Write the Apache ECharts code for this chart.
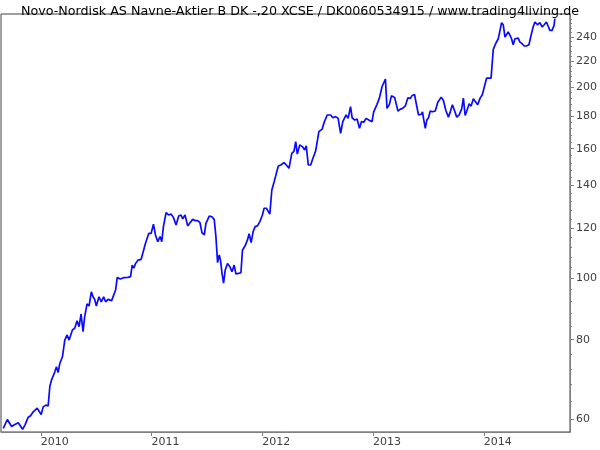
<!DOCTYPE html>
<html><head><meta charset="utf-8">
<script src="https://cdn.jsdelivr.net/npm/echarts@6/dist/echarts.min.js"></script>
<style>html,body{margin:0;padding:0;background:#fff}#c{width:600px;height:450px}</style>
</head><body><div id="c"></div>
<script>
const chartTitle = 'Novo-Nordisk AS Navne-Aktier B DK -,20 XCSE / DK0060534915 / www.trading4living.de';
const years = [
2009.661, 2009.697, 2009.715, 2009.736, 2009.757, 2009.775, 2009.796, 2009.811, 2009.835, 2009.856,
2009.886, 2009.907, 2009.931, 2009.946, 2009.967, 2009.985, 2010.003, 2010.021, 2010.045, 2010.066,
2010.081, 2010.096, 2010.126, 2010.141, 2010.156, 2010.171, 2010.195, 2010.216, 2010.237, 2010.255,
2010.285, 2010.306, 2010.327, 2010.345, 2010.363, 2010.381, 2010.396, 2010.417, 2010.435, 2010.456,
2010.471, 2010.486, 2010.501, 2010.525, 2010.546, 2010.567, 2010.585, 2010.606, 2010.621, 2010.639,
2010.657, 2010.675, 2010.690, 2010.717, 2010.747, 2010.786, 2010.810, 2010.825, 2010.840, 2010.855,
2010.879, 2010.906, 2010.921,
2010.945, 2010.975, 2010.996, 2011.017, 2011.035, 2011.056, 2011.077, 2011.092, 2011.107, 2011.131,
2011.155, 2011.176, 2011.197, 2011.221, 2011.245, 2011.266, 2011.281, 2011.302, 2011.326, 2011.347,
2011.371, 2011.395, 2011.416, 2011.437, 2011.455, 2011.476, 2011.491, 2011.521, 2011.545, 2011.566,
2011.581, 2011.596, 2011.611, 2011.623, 2011.636, 2011.650, 2011.665, 2011.686, 2011.708, 2011.726,
2011.746, 2011.761, 2011.785, 2011.807, 2011.821, 2011.845, 2011.866, 2011.881, 2011.899, 2011.917,
2011.935, 2011.956, 2011.978, 2012.001, 2012.016, 2012.037, 2012.055, 2012.068, 2012.086, 2012.107,
2012.127, 2012.145, 2012.167, 2012.196, 2012.217, 2012.241,
2012.266, 2012.286, 2012.302, 2012.316, 2012.338, 2012.361, 2012.383, 2012.397, 2012.415, 2012.437,
2012.457, 2012.482, 2012.511, 2012.541, 2012.556, 2012.586, 2012.617, 2012.637, 2012.662, 2012.685,
2012.707, 2012.727, 2012.745, 2012.757, 2012.775, 2012.797, 2012.811, 2012.835, 2012.856, 2012.878,
2012.896, 2012.916, 2012.937, 2012.961, 2012.991, 2013.006, 2013.036, 2013.058, 2013.081, 2013.112,
2013.126, 2013.148, 2013.166, 2013.195, 2013.211, 2013.225, 2013.247, 2013.267, 2013.292, 2013.315,
2013.337, 2013.351, 2013.375, 2013.387, 2013.411, 2013.436, 2013.447, 2013.456, 2013.472, 2013.486,
2013.501, 2013.517, 2013.537, 2013.562, 2013.585, 2013.600,
2013.616, 2013.636, 2013.657, 2013.681, 2013.697, 2013.717, 2013.735, 2013.756, 2013.778, 2013.801,
2013.816, 2013.832, 2013.846, 2013.868, 2013.886, 2013.906, 2013.922, 2013.945, 2013.967, 2013.987,
2014.005, 2014.026, 2014.041, 2014.066, 2014.086, 2014.107, 2014.131, 2014.147, 2014.161, 2014.176,
2014.192, 2014.206, 2014.221, 2014.237, 2014.251, 2014.266, 2014.282, 2014.296, 2014.311, 2014.327,
2014.347, 2014.365, 2014.386, 2014.408, 2014.426, 2014.446, 2014.462, 2014.485, 2014.507, 2014.528,
2014.546, 2014.566, 2014.581, 2014.597, 2014.617, 2014.635, 2014.642
];
const prices = [
58.0, 59.9, 59.8, 58.4, 58.7, 58.5, 59.2, 59.1, 57.8, 58.7,
60.4, 60.7, 61.6, 61.4, 62.4, 62.0, 61.0, 62.7, 63.1, 62.9,
67.5, 69.1, 71.2, 72.5, 71.0, 73.4, 75.2, 79.9, 81.4, 79.9,
82.9, 83.4, 85.7, 83.9, 87.8, 82.4, 87.0, 91.1, 90.4, 95.2,
93.5, 92.6, 90.4, 93.5, 91.8, 93.5, 91.8, 92.6, 93.0, 92.2,
92.2, 95.8, 100.3, 99.7, 100.2, 100.3, 100.6, 104.9, 103.7, 105.5,
106.8, 107.1, 107.1,
113.5, 117.7, 117.7, 121.7, 117.0, 114.2, 116.3, 114.2, 120.6, 126.8,
125.8, 126.2, 124.7, 121.3, 125.3, 125.8, 124.0, 125.8, 120.9, 122.3,
123.8, 123.2, 123.2, 122.3, 118.0, 117.0, 122.0, 125.3, 125.0, 123.7,
116.3, 105.8, 108.8, 106.6, 101.8, 98.2, 103.0, 105.5, 104.2, 102.4,
104.9, 101.6, 101.8, 102.0, 110.8, 112.5, 114.9, 117.5, 113.8, 118.4,
120.6, 120.9, 122.8, 125.8, 128.9, 128.9, 128.9, 126.2, 137.7, 141.9,
146.3, 150.2, 150.8, 152.1, 150.8, 149.0,
157.3, 158.5, 164.1, 156.9, 162.2, 161.2, 159.3, 161.7, 150.8, 150.8,
154.5, 158.7, 170.2, 171.8, 175.5, 180.8, 180.8, 179.0, 179.7, 178.6,
169.2, 176.5, 177.5, 180.8, 178.6, 186.3, 179.0, 177.5, 178.2, 172.3,
176.5, 176.1, 178.6, 177.5, 176.5, 182.9, 187.9, 192.4, 200.3, 206.0,
185.2, 187.9, 193.8, 192.7, 192.7, 183.4, 184.7, 185.2, 186.9, 192.4,
192.0, 193.8, 194.8, 189.7, 180.8, 181.3, 182.9, 178.6, 172.3, 177.5,
179.0, 183.4, 182.9, 183.4, 189.3, 188.6,
192.9, 190.6, 183.9, 179.4, 182.7, 187.7, 183.9, 179.4, 180.9, 184.9,
192.2, 180.5, 183.2, 188.3, 186.7, 191.8, 190.0, 187.7, 192.2, 194.6,
200.1, 206.7, 207.4, 206.7, 229.4, 234.1, 238.4, 245.8, 252.7, 250.8,
239.9, 239.9, 244.3, 241.4, 238.4, 233.3, 238.4, 239.9, 239.0, 235.5,
234.1, 232.2, 232.2, 233.3, 240.8, 248.8, 253.3, 250.8, 252.7, 248.8,
250.8, 253.3, 249.7, 245.8, 245.8, 250.3, 256.4
];
const yearTicks = [2010, 2011, 2012, 2013, 2014];
const priceTicks = [60, 80, 100, 120, 140, 160, 180, 200, 220, 240];
const minorPriceTicks = [];
for (let v = 60; v <= 256; v += 4) minorPriceTicks.push(v);

const xMin = 2009.64, xMax = 2014.779;
const pMin = 57.24, pMax = 260.8;

if (years.length !== prices.length) console.error('length mismatch', years.length, prices.length);

const seriesData = years.map((t, i) => [t, Math.log(prices[i])]);
const font = 'DejaVu Sans, Verdana, sans-serif';

const chart = echarts.init(document.getElementById('c'), null, {renderer: 'canvas'});
chart.setOption({
  animation: false,
  backgroundColor: '#ffffff',
  title: {
    text: chartTitle, left: 'center', top: 0,
    textStyle: {fontSize: 12.7, fontWeight: 'normal', color: '#000', fontFamily: font}
  },
  grid: {left: 1, right: 28, top: 14, bottom: 18, show: true, borderColor: '#404040', borderWidth: 1},
  xAxis: {
    type: 'value', min: xMin, max: xMax,
    axisLine: {show: true, lineStyle: {color: '#808080', width: 1}},
    axisTick: {show: true, customValues: yearTicks, length: 4, lineStyle: {color: '#808080'}},
    axisLabel: {customValues: yearTicks, formatter: v => String(Math.round(v)), align: 'left',
      color: '#404040', fontSize: 11, fontFamily: font, margin: 5},
    splitLine: {show: false}
  },
  yAxis: [{
    type: 'value', position: 'right', min: Math.log(pMin), max: Math.log(pMax),
    axisLine: {show: true, lineStyle: {color: '#808080', width: 1}},
    axisTick: {show: true, customValues: priceTicks.map(Math.log), length: 4, lineStyle: {color: '#808080'}},
    axisLabel: {customValues: priceTicks.map(Math.log), formatter: v => String(Math.round(Math.exp(v))),
      color: '#404040', fontSize: 11, fontFamily: font, margin: 6},
    splitLine: {show: false}
  }, {
    type: 'value', position: 'right', offset: 0, min: Math.log(pMin), max: Math.log(pMax),
    axisLine: {show: false},
    axisTick: {show: true, customValues: minorPriceTicks.map(Math.log), length: 2, lineStyle: {color: '#808080'}},
    axisLabel: {show: false},
    splitLine: {show: false}
  }],
  series: [{
    type: 'line', data: seriesData, showSymbol: false, symbol: 'none',
    lineStyle: {color: '#0a0aff', width: 1.7}, yAxisIndex: 0
  }]
});
</script></body></html>
